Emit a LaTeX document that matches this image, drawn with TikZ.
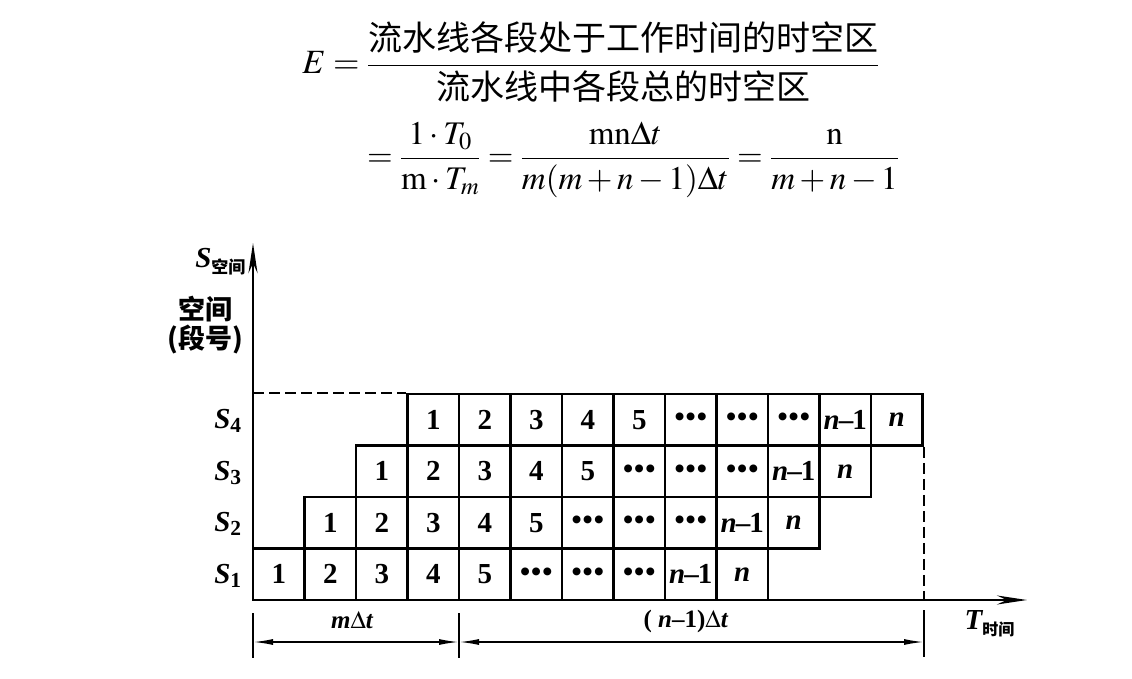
\documentclass[tikz,border=0pt]{standalone}
\usepackage{amsmath}
\usepackage{mathptmx}
\usepackage{fontspec}
\setmainfont{Liberation Serif}
\newfontfamily\cjk{Noto Sans CJK SC}
\usetikzlibrary{arrows.meta}
\newcommand\dotz{\textbullet\kern1pt\textbullet\kern1pt\textbullet}
\newcommand\nmo{\textit{n}\kern-1pt--\kern-1pt1}

\begin{document}
\begin{tikzpicture}[x=1pt,y=-1pt,
  cell/.style={draw,line width=2.6pt,minimum width=51.5pt,minimum height=51.5pt,inner sep=0pt,
    font=\fontsize{29}{29}\selectfont\bfseries},
  slab/.style={font=\fontsize{29}{29}\selectfont\bfseries\itshape},
  axis/.style={line width=2.8pt,-{Stealth[length=30pt,width=9pt]}},
  dim/.style={line width=1.6pt,{Latex[length=20pt,width=6pt]}-{Latex[length=20pt,width=6pt]}},
  tick/.style={line width=2pt},
  guide/.style={line width=2.4pt,dash pattern=on 11pt off 5pt}]
\useasboundingbox (0,0) rectangle (1132,679);

% efficiency formula
\node (eq1) at (591,62) {\fontsize{34}{40}\selectfont
  $E=\dfrac{\text{\cjk 流水线各段处于工作时间的时空区}}{\text{\cjk 流水线中各段总的时空区}}$};
\node (eq2) at (633,160) {\fontsize{33}{40}\selectfont
  $=\dfrac{1\cdot T_0}{\mathrm{m}\cdot T_m}=\dfrac{\mathrm{mn}\Delta t}{m(m+n-1)\Delta t}=\dfrac{\mathrm{n}}{m+n-1}$};

% axes
\coordinate (O) at (253,600);
\coordinate (ytip) at (253,243);
\coordinate (xtip) at (1027,600);
\draw[axis] (O) -- (ytip);
\draw[axis] (O) -- (xtip);
\node[font=\bfseries\itshape\fontsize{29}{29}\selectfont,anchor=east] (ylab) at (249,262)
  {S\raisebox{-6pt}{\cjk\upshape\fontsize{17}{17}\selectfont 空间}};
\node[font=\cjk\bfseries\fontsize{27}{29}\selectfont,align=center] (space) at (205,325) {空间\\(段号)};
\node[font=\bfseries\itshape\fontsize{29}{29}\selectfont,anchor=west] (xlab) at (961,624)
  {T\raisebox{-6pt}{\cjk\upshape\fontsize{16}{16}\selectfont 时间}};

% stage labels
\node[slab] (s1) at (228,576) {S\textsubscript{\upshape 1}};
\node[slab] (s2) at (228,524) {S\textsubscript{\upshape 2}};
\node[slab] (s3) at (228,473) {S\textsubscript{\upshape 3}};
\node[slab] (s4) at (228,421) {S\textsubscript{\upshape 4}};

% time-space cells
\foreach \lab [count=\i from 0] in {1,2,3,4,5,\dotz,\dotz,\dotz,\nmo,\textit{n}}
  \node[cell] (r1-\i) at ({253+51.5*(\i+0.5)},574.25) {\lab};
\foreach \lab [count=\i from 0] in {1,2,3,4,5,\dotz,\dotz,\dotz,\nmo,\textit{n}}
  \node[cell] (r2-\i) at ({253+51.5*(\i+1.5)},522.75) {\lab};
\foreach \lab [count=\i from 0] in {1,2,3,4,5,\dotz,\dotz,\dotz,\nmo,\textit{n}}
  \node[cell] (r3-\i) at ({253+51.5*(\i+2.5)},471.25) {\lab};
\foreach \lab [count=\i from 0] in {1,2,3,4,5,\dotz,\dotz,\dotz,\nmo,\textit{n}}
  \node[cell] (r4-\i) at ({253+51.5*(\i+3.5)},419.75) {\lab};

\draw[guide] (r4-0.north west -| O) -- (r4-0.north west);
\draw[guide] (r4-9.south east) -- (r4-9.south east |- O);

% time spans
\coordinate (t0) at (253,613); \coordinate (t0b) at (253,658);
\coordinate (t1) at (459,613); \coordinate (t1b) at (459,658);
\coordinate (t2) at (924,610); \coordinate (t2b) at (924,657);
\draw[tick] (t0) -- (t0b);
\draw[tick] (t1) -- (t1b);
\draw[tick] (t2) -- (t2b);
\coordinate (m0) at (253,642);
\coordinate (m1) at (459,642);
\coordinate (m2) at (924,642);
\draw[dim] (m0) -- (m1);
\draw[dim] (m1) -- (m2);
\node[font=\bfseries\itshape\fontsize{25}{25}\selectfont] (mspan) at (352,620) {m$\boldsymbol{\Delta}$t};
\node[font=\bfseries\fontsize{25}{25}\selectfont] (nspan) at (686,621) {( \textit{n}--1)$\boldsymbol{\Delta}$\textit{t}};
\end{tikzpicture}
\end{document}
